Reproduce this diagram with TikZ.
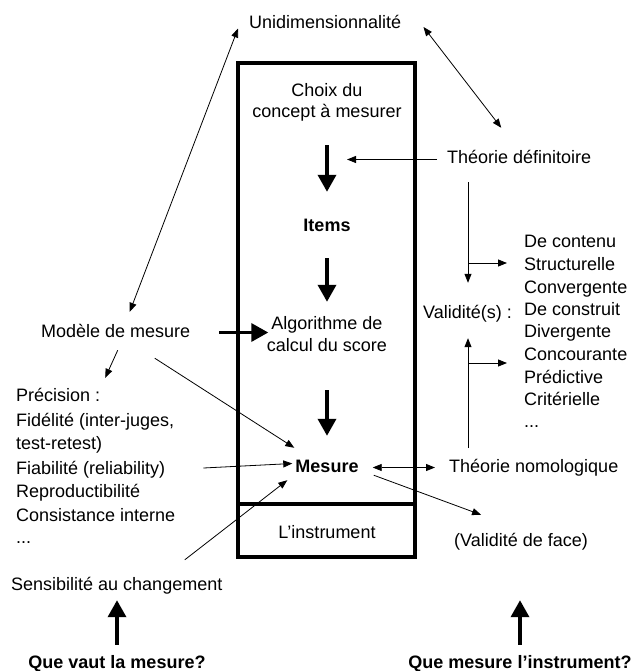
\documentclass[tikz,border=0pt]{standalone}
\usepackage{fontspec}
\setmainfont{Liberation Sans}
\usetikzlibrary{arrows.meta}

\begin{document}
\begin{tikzpicture}[
        x=1pt, y=-1pt,
        font=\fontsize{18}{22}\selectfont,
        lbl/.style={inner sep=1pt, text height=13pt, text depth=4pt},
        arr/.style={-{Triangle[length=9pt,width=7pt]}, line width=0.8pt},
        dbl/.style={{Triangle[length=9pt,width=7pt]}-{Triangle[length=9pt,width=7pt]}, line width=0.8pt},
        bigarr/.style={-{Triangle[length=17pt,width=18pt]}, line width=3.5pt},
        boxline/.style={line width=4pt}
    ]
        \useasboundingbox (0,0) rectangle (636,671);

        % the instrument
        \draw[boxline] (238,63) rectangle (415,557);
        \draw[boxline] (238,504) -- (415,504);

        \node[lbl, anchor=base] (choix1) at (327,97)  {Choix du};
        \node[lbl, anchor=base] (choix2) at (327,118) {concept à mesurer};
        \node[lbl, anchor=base] (items)  at (327,231) {\textbf{Items}};
        \node[lbl, anchor=base] (algo1)  at (327,329) {Algorithme de};
        \node[lbl, anchor=base] (algo2)  at (327,351) {calcul du score};
        \node[lbl, anchor=base] (mesure) at (327,472) {\textbf{Mesure}};
        \node[lbl, anchor=base] (instr)  at (327,538) {L’instrument};

        % left side
        \node[lbl, anchor=base west] (uni)    at (248,29)  {Unidimensionnalité};
        \node[lbl, anchor=base west] (modele) at (40,337)  {Modèle de mesure};
        \node[lbl, anchor=base west] (prec)   at (15,401)  {Précision :};
        \node[lbl, anchor=base west] (fide)   at (15,426)  {Fidélité (inter-juges,};
        \node[lbl, anchor=base west] (test)   at (15,449)  {test-retest)};
        \node[lbl, anchor=base west] (fiab)   at (15,474)  {Fiabilité (reliability)};
        \node[lbl, anchor=base west] (repro)  at (15,497)  {Reproductibilité};
        \node[lbl, anchor=base west] (consis) at (15,521)  {Consistance interne};
        \node[lbl, anchor=base west] (etcL)   at (15,543)  {...};
        \node[lbl, anchor=base west] (sensib) at (10,590)  {Sensibilité au changement};
        \node[lbl, anchor=base]      (quoi1)  at (117,668) {\textbf{Que vaut la mesure?}};

        % right side
        \node[lbl, anchor=base west] (theodef) at (446,164) {Théorie définitoire};
        \node[lbl, anchor=base west] (valid)   at (422,318) {Validité(s) :};
        \node[lbl, anchor=base west] (v1) at (523,247) {De contenu};
        \node[lbl, anchor=base west] (v2) at (523,270) {Structurelle};
        \node[lbl, anchor=base west] (v3) at (523,293) {Convergente};
        \node[lbl, anchor=base west] (v4) at (523,315) {De construit};
        \node[lbl, anchor=base west] (v5) at (523,337) {Divergente};
        \node[lbl, anchor=base west] (v6) at (523,360) {Concourante};
        \node[lbl, anchor=base west] (v7) at (523,383) {Prédictive};
        \node[lbl, anchor=base west] (v8) at (523,405) {Critérielle};
        \node[lbl, anchor=base west] (v9) at (523,427) {...};
        \node[lbl, anchor=base west] (theonom) at (448,472) {Théorie nomologique};
        \node[lbl, anchor=base west] (face)    at (453,546) {(Validité de face)};
        \node[lbl, anchor=base]      (quoi2)   at (520,668) {\textbf{Que mesure l’instrument?}};

        \coordinate (defTip) at (347,159.5);
        \coordinate (vtop) at (468,182);
        \coordinate (vbot) at (468,448);
        \coordinate (brA)  at (468,263);
        \coordinate (brB)  at (468,363);

        % main column
        \draw[bigarr, shorten <=22pt, shorten >=25pt] (choix2.south) -- (items.north);
        \draw[bigarr, shorten <=22pt, shorten >=13pt] (items.south) -- (algo1.north);
        \draw[bigarr, shorten <=34pt, shorten >=22pt] (algo2.south) -- (mesure.north);
        \draw[bigarr, shorten <=28pt, shorten >=2pt] (modele.east) -- (modele.east -| algo1.west);

        % thin connectors
        \draw[dbl] ([shift={(-10,4)}]uni.west) -- ([shift={(14,-11)}]modele.north);
        \draw[dbl] ([shift={(21,2.5)}]uni.east) -- ([shift={(-18,-22)}]theodef.north);
        \draw[arr] ([shift={(-9,0)}]theodef.west) -- (defTip);
        \draw[arr] ([shift={(2,8)}]modele.south) -- ([shift={(47,-9)}]prec.north);
        \draw[arr] ([shift={(39,16)}]modele.south) -- ([shift={(0,-10)}]mesure.north west);
        \draw[arr] ([shift={(37,-1.5)}]fiab.east) -- ([shift={(-2,-4)}]mesure.west);
        \draw[arr] ([shift={(68,-16)}]sensib.north) -- ([shift={(-7,3)}]mesure.south west);
        \draw[dbl, shorten <=13pt, shorten >=13pt] (mesure.east) -- (theonom.west);
        \draw[arr] ([shift={(14,-2)}]mesure.south east) -- ([shift={(-40,-17)}]face.north);

        % validity
        \draw[arr, shorten >=21pt] (vtop) -- (vtop |- valid.north);
        \draw[arr, shorten >=15pt] (vbot) -- (vbot |- valid.south);
        \draw[arr, shorten >=16pt] (brA) -- (brA -| v2.west);
        \draw[arr, shorten >=16pt] (brB) -- (brB -| v6.west);

        % questions
        \draw[bigarr, shorten <=9pt, shorten >=5pt] (quoi1.north) -- (quoi1.north |- sensib.south);
        \draw[bigarr, shorten <=9pt, shorten >=5pt] (quoi2.north) -- (quoi2.north |- sensib.south);
    \end{tikzpicture}
\end{document}
